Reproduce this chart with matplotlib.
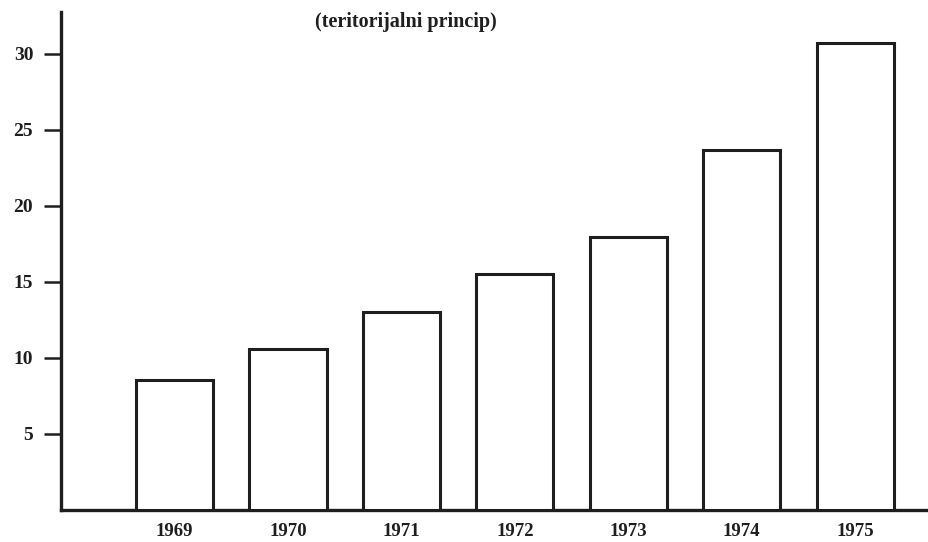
import matplotlib.pyplot as plt

# podaci
godine = ['1969', '1970', '1971', '1972', '1973', '1974', '1975']
vrijednosti = [8.55, 10.6, 13.0, 15.5, 17.95, 23.7, 30.7]
y_oznake = [5, 10, 15, 20, 25, 30]
naslov = '(teritorijalni princip)'

plt.rcParams['font.family'] = ['Liberation Serif', 'DejaVu Serif']

fig = plt.figure(figsize=(9.29, 5.42), dpi=100)
W, H = 929, 542
x0, y0, ytop = 61, 510, 12
ax = fig.add_axes([x0 / W, (H - y0) / H, (W - x0) / W, (y0 - ytop) / H])

boja = '#1e1e1e'
pos = list(range(len(godine)))
ax.bar(pos, vrijednosti, width=0.68, facecolor='white', edgecolor=boja,
       linewidth=2.2, zorder=3)

ax.set_xlim(-1.0, 6.65)
ax.set_ylim(0, (y0 - ytop) / 15.2)

for s in ['top', 'right']:
    ax.spines[s].set_visible(False)
for s in ['left', 'bottom']:
    ax.spines[s].set_linewidth(2.4)
    ax.spines[s].set_color(boja)

ax.set_yticks(y_oznake)
ax.set_yticklabels([str(v) for v in y_oznake], fontsize=14, fontweight='semibold',
                   color=boja)
ax.tick_params(axis='y', length=12, width=1.8, color=boja, pad=8)

ax.set_xticks(pos)
ax.set_xticklabels(godine, fontsize=13.5, fontweight='semibold', color=boja)
ax.tick_params(axis='x', length=0, pad=9)

fig.text(406 / W, 1 - 22 / H, naslov, ha='center', va='center',
         fontsize=14.5, fontweight='bold', color=boja)

fig.savefig('out.png', dpi=100)
